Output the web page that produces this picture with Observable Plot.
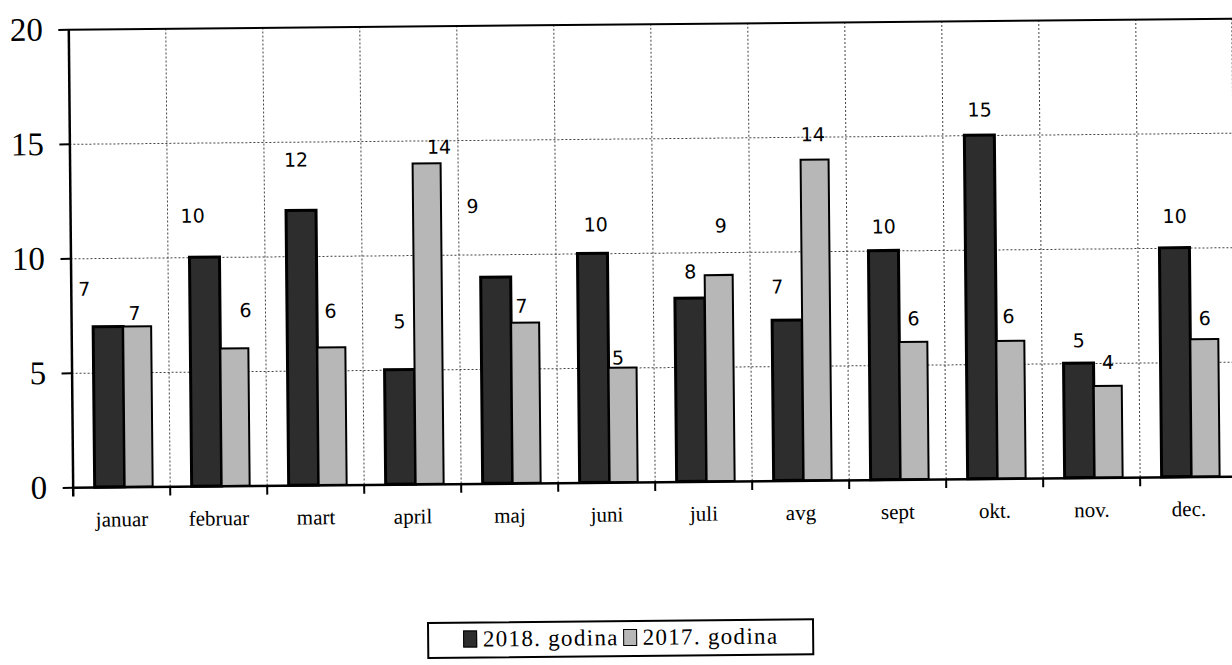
<!DOCTYPE html>
<html>
<head>
<meta charset="utf-8">
<script src="https://cdn.jsdelivr.net/npm/d3@7"></script>
<script src="https://cdn.jsdelivr.net/npm/@observablehq/plot@0.6"></script>
<style>
  html, body { margin: 0; padding: 0; background: #fff; }
  #wrap { position: relative; width: 1232px; height: 665px; overflow: hidden;
          transform: rotate(-0.55deg); transform-origin: 0 0; }
  #chart { position: absolute; left: 0; top: 0; }
  g[aria-label="x-labels"] text { letter-spacing: 1.5px; }
  #legend { position: absolute; left: 421px; top: 626px; width: 387px; box-sizing: border-box;
            border: 2px solid #000; padding: 3px 0 4px 0; text-align: center;
            font-family: "Liberation Serif", serif; font-size: 23px;
            letter-spacing: 1.3px; white-space: nowrap; background: #fff; line-height: 26px; }
  #legend .sw { display: inline-block; width: 12px; height: 15px; border: 1.5px solid #000;
                vertical-align: -1px; margin-right: 6px; }
  #legend .item { margin: 0 2px; }
</style>
</head>
<body>
<div id="wrap">
  <div id="chart"></div>
  <div id="legend"></div>
</div>
<script>
// ---- data ----
const months = ["januar", "februar", "mart", "april", "maj", "juni", "juli", "avg", "sept", "okt.", "nov.", "dec."];
const values2018 = [7, 10, 12, 5, 9, 10, 8, 7, 10, 15, 5, 10];
const values2017 = [7, 6, 6, 14, 7, 5, 9, 14, 6, 6, 4, 6];
const seriesNames = ["2018. godina", "2017. godina"];
const yTicks = [0, 5, 10, 15, 20];
// where the value labels sit in the picture (data units) and their sideways shift
const labelY2018 = [8.65, 11.8, 14.2, 7.1, 12.1, 11.25, 9.15, 8.46, 11.04, 16.1, 5.99, 11.37];
const labelY2017 = [7.57, 7.66, 7.59, 14.7, 7.73, 5.42, 11.15, 15.09, 7.01, 7.07, 5.02, 6.9];
const labelDx2018 = [-24, -12, -5, 0, -23, 3, 0, -10, 0, 0, 0, 0];
const labelDx2017 = [-3, 11, -1, 12, -4, -5, 2, -2, 0, -2, 0, 0];

// ---- build ----
const rows2018 = months.map((m, i) => ({month: m, value: values2018[i], ly: labelY2018[i], ldx: labelDx2018[i]}));
const rows2017 = months.map((m, i) => ({month: m, value: values2017[i], ly: labelY2017[i], ldx: labelDx2017[i]}));

const W = 1232, H = 540, ML = 68, MR = 0;
const bw = (W - ML - MR) / months.length;
const dark = "#2d2d2d", light = "#b7b7b7";
const dotted = {stroke: "#444", strokeWidth: 1, strokeDasharray: "2,2"};
const labelFont = {fontFamily: "DejaVu Sans, Verdana, sans-serif", fontSize: 19, fill: "#000", lineAnchor: "middle"};

const labelMarks = [
  ...rows2018.map(d => Plot.text([d], {x: "month", y: "ly", text: r => String(r.value), dx: -bw / 2 + 37 + d.ldx, ...labelFont})),
  ...rows2017.map(d => Plot.text([d], {x: "month", y: "ly", text: r => String(r.value), dx: -bw / 2 + 66 + d.ldx, ...labelFont}))
];

const chart = Plot.plot({
  width: W, height: H,
  marginLeft: ML, marginRight: MR, marginTop: 30, marginBottom: 52,
  x: {type: "band", domain: months, padding: 0, axis: null},
  y: {domain: [0, 20], axis: null},
  style: {background: "transparent", overflow: "visible"},
  marks: [
    Plot.ruleY([5, 10, 15], {...dotted}),
    Plot.ruleX(months.slice(1), {x: d => d, dx: -bw / 2, y1: 0, y2: 20, ...dotted}),
    Plot.ruleX([months[months.length - 1]], {x: d => d, dx: bw / 2 - 1, y1: 0, y2: 20, ...dotted}),
    Plot.barY(rows2018, {x: "month", y: "value", fill: dark, stroke: "#000", strokeWidth: 3, insetLeft: 22, insetRight: 45}),
    Plot.barY(rows2017, {x: "month", y: "value", fill: light, stroke: "#000", strokeWidth: 2, insetLeft: 52, insetRight: 17}),
    Plot.ruleY([20], {stroke: "#000", strokeWidth: 2}),
    Plot.ruleY([0], {stroke: "#000", strokeWidth: 2.5}),
    Plot.ruleX([months[0]], {x: d => d, dx: -bw / 2, y1: -0.4, y2: 20, stroke: "#000", strokeWidth: 2.5}),
    Plot.ruleX(months.slice(1), {x: d => d, dx: -bw / 2, y1: 0, y2: -0.4, stroke: "#000", strokeWidth: 2}),
    Plot.axisY({ticks: yTicks, tickSize: 10, tickFormat: () => "", stroke: "#000", strokeWidth: 2}),
    Plot.text(yTicks, {y: d => d, text: d => String(d), frameAnchor: "left", textAnchor: "end", dx: -26,
      lineAnchor: "middle", fontFamily: "Liberation Serif, serif", fontSize: 33, fill: "#000"}),
    Plot.text(months, {x: d => d, text: d => d, frameAnchor: "bottom", lineAnchor: "top", dy: 24,
      fontFamily: "Liberation Serif, serif", fontSize: 21, fill: "#000", ariaLabel: "x-labels"}),
    ...labelMarks
  ]
});
document.getElementById("chart").appendChild(chart);

// legend
const legend = document.getElementById("legend");
const colors = [dark, light];
seriesNames.forEach((name, i) => {
  const item = document.createElement("span");
  item.className = "item";
  const sw = document.createElement("span");
  sw.className = "sw";
  sw.style.background = colors[i];
  item.appendChild(sw);
  item.appendChild(document.createTextNode(name));
  legend.appendChild(item);
});
</script>
</body>
</html>
